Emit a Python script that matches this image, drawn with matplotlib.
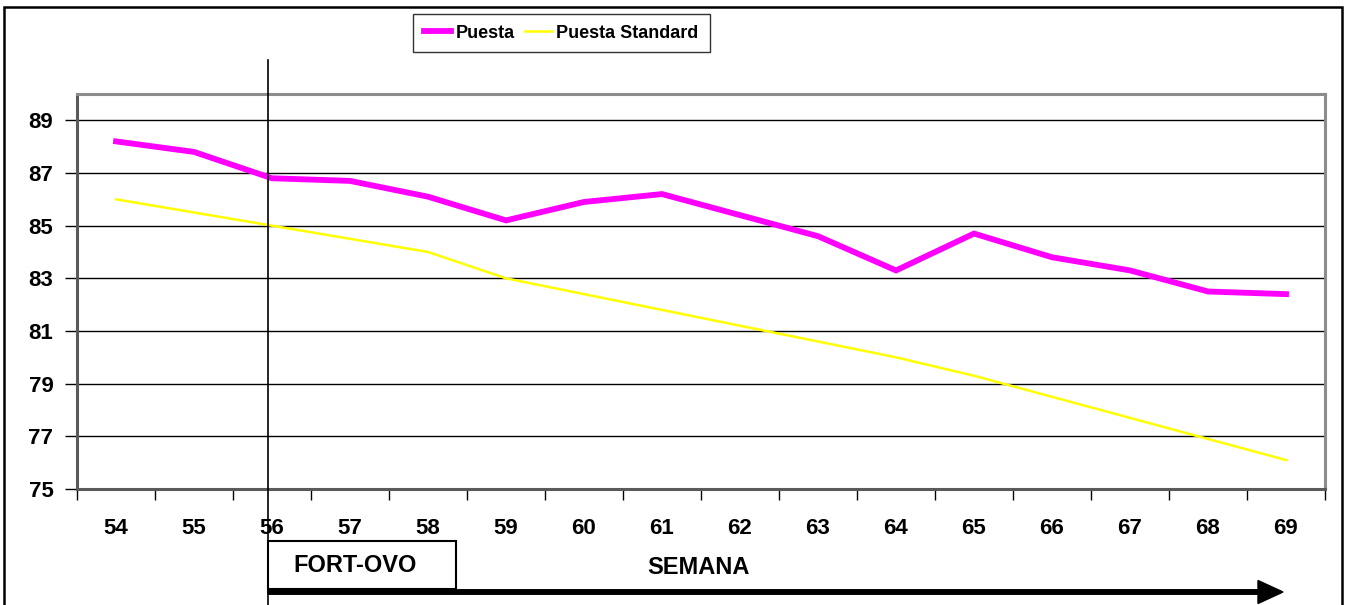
import numpy as np
import matplotlib
matplotlib.use("Agg")
import matplotlib.pyplot as plt
from matplotlib import transforms
from matplotlib.patches import Rectangle, FancyArrow

plt.rcParams["font.family"] = ["Liberation Sans", "DejaVu Sans"]
plt.rcParams["font.weight"] = "bold"

semanas = [54, 55, 56, 57, 58, 59, 60, 61, 62, 63, 64, 65, 66, 67, 68, 69]
puesta = [88.2, 87.8, 86.8, 86.7, 86.1, 85.2, 85.9, 86.2, 85.4, 84.6,
          83.3, 84.7, 83.8, 83.3, 82.5, 82.4]
puesta_std = [86.0, 85.5, 85.0, 84.5, 84.0, 83.0, 82.4, 81.8, 81.2, 80.6,
              80.0, 79.3, 78.5, 77.7, 76.9, 76.1]
y_ticks = [75, 77, 79, 81, 83, 85, 87, 89]
inicio_fortovo = 55.95

W, H = 1352, 605
fig = plt.figure(figsize=(W / 100, H / 100), dpi=100)
ax = fig.add_axes([77 / W, 1 - 489 / H, 1248 / W, 395 / H])


def px(x, y):
    """figure pixel (from top-left) -> figure fraction"""
    return x / W, 1 - y / H


ax.plot(semanas, puesta, color="#ff00ff", lw=4.2, label="Puesta",
        solid_joinstyle="miter", zorder=4)
ax.plot(semanas, puesta_std, color="#ffff00", lw=1.8, label="Puesta Standard",
        zorder=3)

ax.set_xlim(53.5, 69.5)
ax.set_ylim(75, 90)
ax.set_yticks(y_ticks)
ax.set_yticklabels([str(v) for v in y_ticks], fontsize=16, fontweight="bold")
ax.set_xticks(np.arange(53.5, 70, 1))
ax.set_xticklabels([])
ax.set_xticks(semanas, minor=True)
ax.set_xticklabels([str(s) for s in semanas], minor=True, fontsize=16,
                   fontweight="bold")
ax.tick_params(axis="x", which="major", direction="out", length=8, width=1,
               color="black")
ax.tick_params(axis="x", which="minor", length=0, pad=21)
ax.tick_params(axis="y", direction="out", length=9, width=1, color="black",
               pad=8)
ax.grid(axis="y", color="black", lw=1)
ax.set_axisbelow(True)
for side in ["top", "right"]:
    ax.spines[side].set_color("#8c8c8c")
    ax.spines[side].set_linewidth(2.2)
for side in ["left", "bottom"]:
    ax.spines[side].set_color("#5a5a5a")
    ax.spines[side].set_linewidth(2.2)

# vertical marker for start of FORT-OVO
tr = transforms.blended_transform_factory(ax.transData, fig.transFigure)
ax.plot([inicio_fortovo, inicio_fortovo], [0, 1 - 60 / H], color="black",
        lw=1.2, transform=tr, clip_on=False, zorder=5)

# legend
leg = ax.legend(loc="center", bbox_to_anchor=px(561.5, 33),
                bbox_transform=fig.transFigure, ncol=2, frameon=True,
                fancybox=False, shadow=False, handlelength=1.5,
                handletextpad=0.25, columnspacing=0.55, borderpad=0.6,
                borderaxespad=0,
                prop={"family": "Liberation Sans", "weight": "bold",
                      "size": 13})
leg.get_frame().set_edgecolor("black")
leg.get_frame().set_linewidth(1.0)

# FORT-OVO box and arrow
x0, y0 = px(268, 589)
x1, y1 = px(456, 541)
fig.add_artist(Rectangle((x0, y0), x1 - x0, y1 - y0, transform=fig.transFigure,
                         fill=False, edgecolor="black", lw=1.5))
fig.text(*px(355, 566), "FORT-OVO", ha="center", va="center", fontsize=17,
         fontweight="bold")
fig.text(*px(698, 568), "SEMANA", ha="center", va="center", fontsize=17,
         fontweight="bold")
ax0, ay0 = px(268, 592)
ax1, _ = px(1283, 592)
fig.add_artist(FancyArrow(ax0, ay0, ax1 - ax0, 0, width=4.5 / H,
                          head_width=23 / H, head_length=25 / W,
                          length_includes_head=True, color="black",
                          transform=fig.transFigure))

# outer chart frame
fx0, fy0 = px(4, 612)
fx1, fy1 = px(1342, 7)
fig.add_artist(Rectangle((fx0, fy0), fx1 - fx0, fy1 - fy0,
                         transform=fig.transFigure, fill=False,
                         edgecolor="black", lw=1.8))

fig.savefig("out.png", dpi=100)
